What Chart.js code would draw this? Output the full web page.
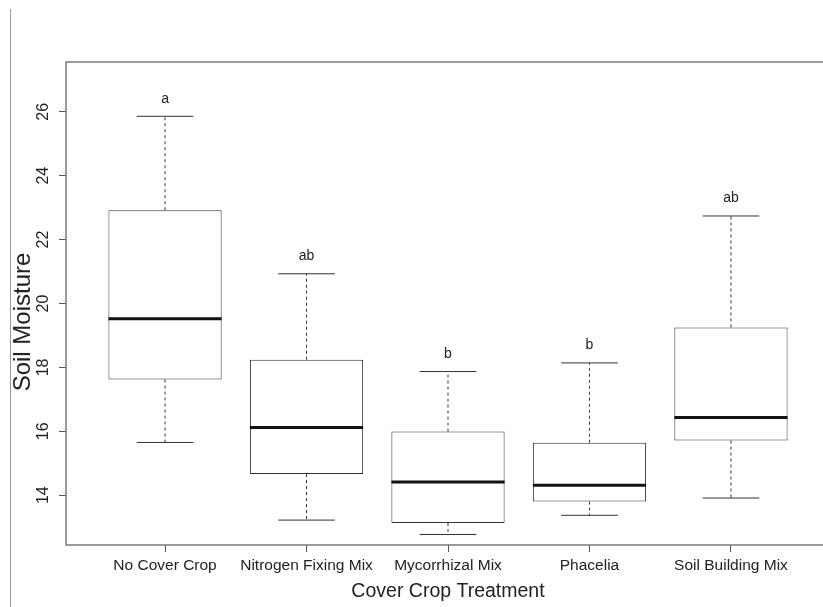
<!DOCTYPE html>
<html>
<head>
<meta charset="utf-8">
<script src="https://cdn.jsdelivr.net/npm/chart.js@4.4.1/dist/chart.umd.min.js"></script>
<style>
  html, body { margin: 0; padding: 0; background: #fff; overflow: hidden; }
  #wrap { width: 850px; height: 607px; }
</style>
</head>
<body>
<div id="wrap"><canvas id="myChart" width="850" height="607"></canvas></div>
<script>
// soil moisture by cover crop treatment (boxplot stats)
const treatments = ['No Cover Crop', 'Nitrogen Fixing Mix', 'Mycorrhizal Mix', 'Phacelia', 'Soil Building Mix'];
const whiskerLow  = [15.65, 13.22, 12.77, 13.37, 13.91];
const quartile1   = [17.62, 14.66, 13.13, 13.80, 15.71];
const medians     = [19.52, 16.12, 14.41, 14.31, 16.43];
const quartile3   = [22.92, 18.24, 15.99, 15.64, 19.25];
const whiskerHigh = [25.86, 20.93, 17.87, 18.14, 22.74];
const groupLetters = ['a', 'ab', 'b', 'b', 'ab'];
const yTicks = [14, 16, 18, 20, 22, 24, 26];

const sans = "'Liberation Sans', Arial, sans-serif";
const boxHalf = 0.4;    // boxwex 0.8
const capHalf = 0.2;    // staple half width

const boxes = treatments.map((t, i) => ({ x: i + 1, y: [quartile1[i], quartile3[i]] }));
const whiskerPts = [];
const capPts = [];
const medianPts = [];
treatments.forEach((t, i) => {
    const x = i + 1;
    whiskerPts.push({ x: x, y: quartile3[i] }, { x: x, y: whiskerHigh[i] }, { x: x, y: null });
    whiskerPts.push({ x: x, y: quartile1[i] }, { x: x, y: whiskerLow[i] }, { x: x, y: null });
    capPts.push({ x: x - capHalf, y: whiskerHigh[i] }, { x: x + capHalf, y: whiskerHigh[i] }, { x: x, y: null });
    capPts.push({ x: x - capHalf, y: whiskerLow[i] }, { x: x + capHalf, y: whiskerLow[i] }, { x: x, y: null });
    medianPts.push({ x: x - boxHalf, y: medians[i] }, { x: x + boxHalf, y: medians[i] }, { x: x, y: null });
});

// plot frame, page edge line, axis titles and group letters
const extras = {
    id: 'extras',
    beforeDraw(chart) {
        const c = chart.ctx;
        c.save();
        c.strokeStyle = '#9a9a9a';
        c.lineWidth = 1;
        c.beginPath();
        c.moveTo(10.5, 9);
        c.lineTo(10.5, 607);
        c.stroke();
        c.restore();
    },
    afterDatasetsDraw(chart) {
        const c = chart.ctx;
        const a = chart.chartArea;
        const xs = chart.scales.x, ys = chart.scales.y;
        c.save();
        c.strokeStyle = '#666';
        c.lineWidth = 1.3;
        c.strokeRect(a.left, a.top, a.right - a.left, a.bottom - a.top);

        c.fillStyle = '#222';
        c.textAlign = 'center';
        c.textBaseline = 'middle';
        c.font = '14px ' + sans;
        groupLetters.forEach((l, i) => {
            c.fillText(l, xs.getPixelForValue(i + 1), ys.getPixelForValue(whiskerHigh[i] + 0.55));
        });

        c.font = '19.5px ' + sans;
        c.fillText('Cover Crop Treatment', (a.left + a.right) / 2, 592);

        c.translate(23, 322);
        c.rotate(-Math.PI / 2);
        c.font = '24px ' + sans;
        c.fillText('Soil Moisture', 0, 0);
        c.restore();
    }
};

const ctx = document.getElementById('myChart');

new Chart(ctx, {
    type: 'bar',
    data: {
        datasets: [
            {
                type: 'line',
                label: 'Median',
                data: medianPts,
                borderColor: '#111',
                borderWidth: 3,
                pointRadius: 0,
                spanGaps: false,
                order: 1
            },
            {
                type: 'line',
                label: 'Staples',
                data: capPts,
                borderColor: '#333',
                borderWidth: 1,
                pointRadius: 0,
                spanGaps: false,
                order: 2
            },
            {
                type: 'line',
                label: 'Whiskers',
                data: whiskerPts,
                borderColor: '#333',
                borderWidth: 1,
                borderDash: [3, 3],
                pointRadius: 0,
                spanGaps: false,
                order: 2
            },
            {
                type: 'bar',
                label: 'IQR',
                data: boxes,
                backgroundColor: '#fff',
                borderColor: '#333',
                borderWidth: 1,
                borderSkipped: false,
                barPercentage: 0.8,
                categoryPercentage: 1,
                order: 3
            }
        ]
    },
    options: {
        responsive: false,
        animation: false,
        layout: { padding: { top: 62, right: 20, left: 0, bottom: 0 } },
        plugins: {
            legend: { display: false },
            tooltip: { enabled: false }
        },
        scales: {
            x: {
                type: 'linear',
                min: 0.3,
                max: 5.7,
                offset: false,
                afterBuildTicks: s => { s.ticks = treatments.map((t, i) => ({ value: i + 1 })); },
                afterFit: s => { s.height = 62; },
                ticks: {
                    callback: v => treatments[v - 1],
                    autoSkip: false,
                    maxRotation: 0,
                    padding: 4,
                    color: '#222',
                    font: { size: 15.5, family: sans }
                },
                grid: { offset: false, drawOnChartArea: false, tickLength: 7, color: '#555' },
                border: { display: false }
            },
            y: {
                min: 12.44,
                max: 27.56,
                beginAtZero: false,
                afterBuildTicks: s => { s.ticks = yTicks.map(v => ({ value: v })); },
                afterFit: s => { s.width = 66; },
                ticks: {
                    minRotation: 90,
                    maxRotation: 90,
                    crossAlign: 'center',
                    padding: 7,
                    color: '#222',
                    font: { size: 16, family: sans }
                },
                grid: { drawOnChartArea: false, tickLength: 7, color: '#555' },
                border: { display: false }
            }
        }
    },
    plugins: [extras]
});
</script>
</body>
</html>
